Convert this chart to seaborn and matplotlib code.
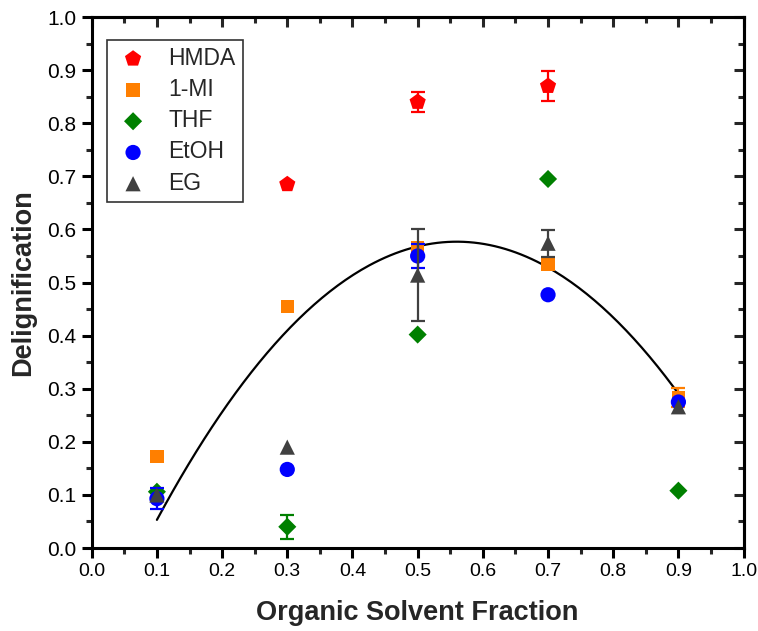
import numpy as np
import pandas as pd
import matplotlib
matplotlib.use("Agg")
import matplotlib.pyplot as plt
from matplotlib.ticker import MultipleLocator, FormatStrFormatter
import seaborn as sns

# ── Data ──────────────────────────────────────────────────
solvents = ["HMDA", "1-MI", "THF", "EtOH", "EG"]

hmda_x   = [0.3, 0.5, 0.7]
hmda_y   = [0.685, 0.840, 0.870]
hmda_err = [0.0, 0.018, 0.029]

mi_x   = [0.1, 0.3, 0.5, 0.7, 0.9]
mi_y   = [0.172, 0.455, 0.565, 0.535, 0.283]
mi_err = [0.0, 0.0, 0.0, 0.0, 0.018]

thf_x   = [0.1, 0.3, 0.5, 0.7, 0.9]
thf_y   = [0.106, 0.040, 0.402, 0.695, 0.108]
thf_err = [0.0, 0.023, 0.0, 0.0, 0.0]

etoh_x   = [0.1, 0.3, 0.5, 0.7, 0.9]
etoh_y   = [0.093, 0.148, 0.550, 0.477, 0.275]
etoh_err = [0.020, 0.0, 0.022, 0.0, 0.0]

eg_x   = [0.1, 0.3, 0.5, 0.7, 0.9]
eg_y   = [0.100, 0.190, 0.514, 0.574, 0.266]
eg_err = [0.0, 0.0, 0.087, 0.025, 0.0]

# quadratic fit line (coefficients, highest power first) and its range
fit_coef  = [-2.476, 2.773, -0.1995]
fit_range = [0.1, 0.9]

colors  = {"HMDA": "#FF0000", "1-MI": "#FF7F00", "THF": "#008000",
           "EtOH": "#0000FF", "EG": "#404040"}
markers = {"HMDA": "p", "1-MI": "s", "THF": "D", "EtOH": "o", "EG": "^"}
sizes   = {"HMDA": 150, "1-MI": 95, "THF": 85, "EtOH": 120, "EG": 120}

series = {
    "HMDA": (hmda_x, hmda_y, hmda_err),
    "1-MI": (mi_x, mi_y, mi_err),
    "THF":  (thf_x, thf_y, thf_err),
    "EtOH": (etoh_x, etoh_y, etoh_err),
    "EG":   (eg_x, eg_y, eg_err),
}

rows = []
for name in solvents:
    xs, ys, es = series[name]
    for x, y, e in zip(xs, ys, es):
        rows.append({"Fraction": x, "Delig": y, "Err": e, "Solvent": name})
df = pd.DataFrame(rows)

# ── Plot ─────────────────────────────────────────────────
sns.set_theme(style="ticks")
plt.rcParams["font.family"] = ["Liberation Sans", "DejaVu Sans"]

fig = plt.figure(figsize=(7.58, 6.31), dpi=100)
ax = fig.add_axes([0.121, 0.1315, 0.860, 0.8415])

# fit curve
xf = np.linspace(fit_range[0], fit_range[1], 200)
ax.plot(xf, np.polyval(fit_coef, xf), color="black", lw=1.6, zorder=1)

for i, name in enumerate(solvents):
    sub = df[(df["Solvent"] == name) & (df["Err"] > 0)]
    ax.errorbar(sub["Fraction"], sub["Delig"], yerr=sub["Err"], fmt="none",
                ecolor=colors[name], elinewidth=1.6, capsize=5, capthick=1.6,
                zorder=2 + 2 * i)
    d = df[df["Solvent"] == name]
    sns.scatterplot(data=d, x="Fraction", y="Delig", ax=ax, color=colors[name],
                    marker=markers[name], s=sizes[name], edgecolor="none",
                    linewidth=0, label=name, zorder=3 + 2 * i)

ax.set_xlim(0, 1)
ax.set_ylim(0, 1)
for axis in (ax.xaxis, ax.yaxis):
    axis.set_major_locator(MultipleLocator(0.1))
    axis.set_minor_locator(MultipleLocator(0.05))
    axis.set_major_formatter(FormatStrFormatter("%.1f"))

for sp in ax.spines.values():
    sp.set_visible(True)
    sp.set_linewidth(2.2)
    sp.set_color("black")

# left / bottom: outward ticks with labels
ax.tick_params(axis="both", which="major", direction="out", length=7, width=2.2,
               colors="black", pad=4)
ax.tick_params(axis="both", which="minor", direction="out", length=4, width=2.2)
ax.tick_params(axis="y", labelsize=15)
ax.tick_params(axis="x", labelsize=14)

# right / top: inward mirrored ticks, no labels
sec_y = ax.secondary_yaxis("right")
sec_x = ax.secondary_xaxis("top")
for sec, axis in ((sec_y, sec_y.yaxis), (sec_x, sec_x.xaxis)):
    axis.set_major_locator(MultipleLocator(0.1))
    axis.set_minor_locator(MultipleLocator(0.05))
    sec.tick_params(which="major", direction="in", length=7, width=2.2,
                    labelleft=False, labelright=False, labeltop=False,
                    labelbottom=False)
    sec.tick_params(which="minor", direction="in", length=4, width=2.2)
    for sp in sec.spines.values():
        sp.set_linewidth(2.2)
        sp.set_color("black")

ax.set_xlabel("Organic Solvent Fraction", fontsize=19.5, fontweight="bold", labelpad=14)
ax.set_ylabel("Delignification", fontsize=19.5, fontweight="bold", labelpad=8)

handles, labels = ax.get_legend_handles_labels()
leg = ax.legend(handles, labels, loc="upper left", bbox_to_anchor=(0.023, 0.957),
                borderaxespad=0, frameon=True, fancybox=False, fontsize=16.5,
                labelspacing=0.36, handlelength=1.7, handletextpad=0.7,
                borderpad=0.3, markerscale=1.0)
leg.get_frame().set_edgecolor("black")
leg.get_frame().set_linewidth(1.2)

fig.savefig("out.png", dpi=100)
plt.close(fig)
